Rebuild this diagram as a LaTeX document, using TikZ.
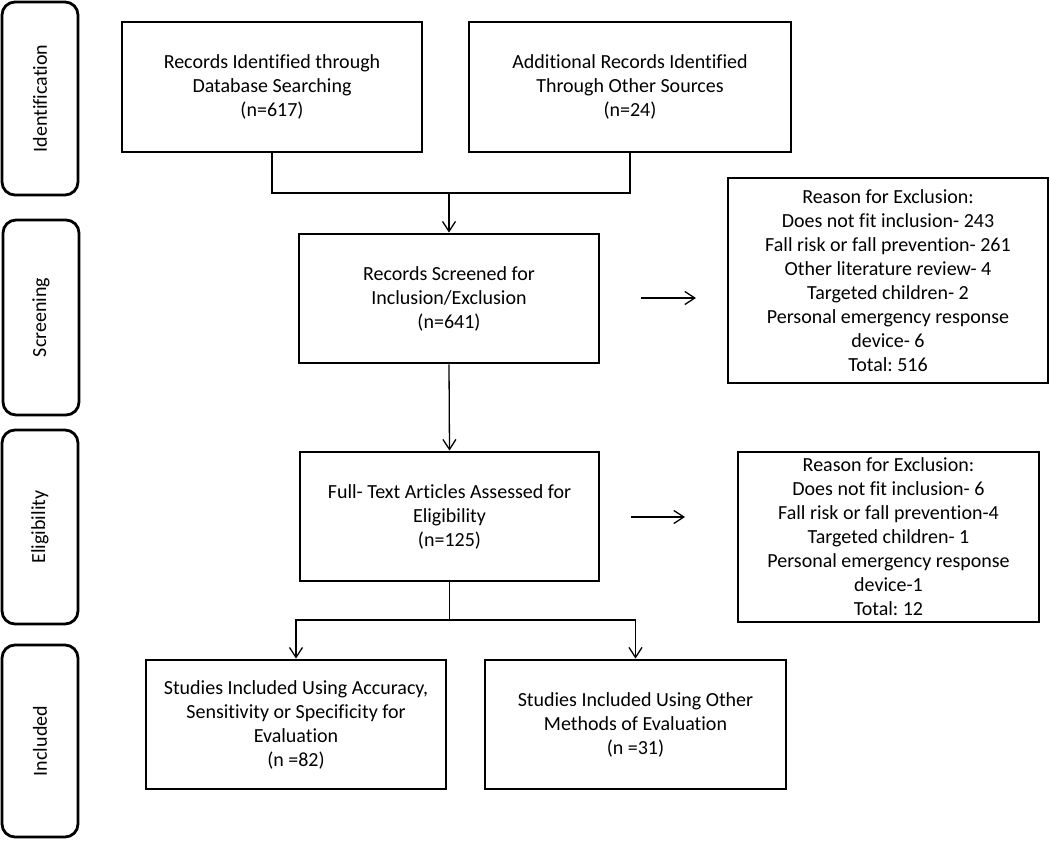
\documentclass[tikz,border=0pt]{standalone}
\usepackage{fontspec}
\setmainfont{Carlito}[Ligatures=NoCommon]
\frenchspacing
\usetikzlibrary{arrows.meta}
\tikzset{
  txt/.style={font=\fontsize{20}{24}\selectfont},
  box/.style={draw, line width=2.8pt, align=center, inner sep=2pt, txt},
  stage/.style={draw, line width=2.8pt, rounded corners=13pt},
  conn/.style={line width=1.3pt},
  arr/.style={line width=1.3pt, -{Straight Barb[length=10pt,width=13pt]}},
}
\begin{document}
\begin{tikzpicture}[x=1pt,y=-1pt]
\useasboundingbox (0,0) rectangle (1050,841);
% stage labels
\node[stage, minimum width=76pt, minimum height=193pt] (sid) at (40,98.5) {};
\node[rotate=90, txt] (tid) at (sid.center) {Identification};
\node[stage, minimum width=76pt, minimum height=195pt] (ssc) at (41,317.5) {};
\node[rotate=90, txt] (tsc) at (ssc.center) {Screening};
\node[stage, minimum width=76pt, minimum height=194pt] (sel) at (40,527) {};
\node[rotate=90, txt] (tel) at (sel.center) {Eligibility};
\node[stage, minimum width=76pt, minimum height=192pt] (sin) at (40,741) {};
\node[rotate=90, txt] (tin) at (sin.center) {Included};
% main boxes
\node[box, minimum width=300pt, minimum height=130pt] (b1) at (272,87)
  {Records Identified through\\Database Searching\\(n=617)};
\node[box, minimum width=322pt, minimum height=130pt] (b2) at (630,87)
  {Additional Records Identified\\Through Other Sources\\(n=24)};
\node[box, minimum width=300pt, minimum height=129pt] (b3) at (449,298.5)
  {Records Screened for\\Inclusion/Exclusion\\(n=641)};
\node[box, minimum width=299pt, minimum height=129pt] (b4) at (449.5,516.5)
  {Full- Text Articles Assessed for\\Eligibility\\(n=125)};
\node[box, minimum width=300pt, minimum height=129pt] (b5) at (296,724.5)
  {Studies Included Using Accuracy,\\Sensitivity or Specificity for\\Evaluation\\(n =82)};
\node[box, minimum width=301pt, minimum height=129pt] (b6) at (635.5,724.5)
  {Studies Included Using Other\\Methods of Evaluation\\(n =31)};
% exclusion boxes
\node[box, minimum width=320pt, minimum height=205pt] (e1) at (888,280.5)
  {Reason for Exclusion:\\Does not fit inclusion- 243\\Fall risk or fall prevention- 261\\Other literature review- 4\\Targeted children- 2\\Personal emergency response\\device- 6\\Total: 516};
\node[box, minimum width=301pt, minimum height=170pt] (e2) at (888.5,537)
  {Reason for Exclusion:\\Does not fit inclusion- 6\\Fall risk or fall prevention-4\\Targeted children- 1\\Personal emergency response\\device-1\\Total: 12};
% connectors
\coordinate (j1) at (449,193);
\draw[conn] (b1.south) |- (j1) -| (b2.south);
\draw[arr] (j1) -- (b3.north);
\draw[arr] (b3.south) -- (b4.north);
\coordinate (j2) at (449.5,620);
\draw[conn] (b4.south) -- (j2);
\draw[arr] (j2) -| (b5.north);
\draw[arr] (j2) -| (b6.north);
\coordinate (x1s) at (641,298);
\coordinate (x1e) at (696,298);
\draw[arr] (x1s) -- (x1e);
\coordinate (x2s) at (631,517);
\coordinate (x2e) at (685,517);
\draw[arr] (x2s) -- (x2e);
\end{tikzpicture}
\end{document}
